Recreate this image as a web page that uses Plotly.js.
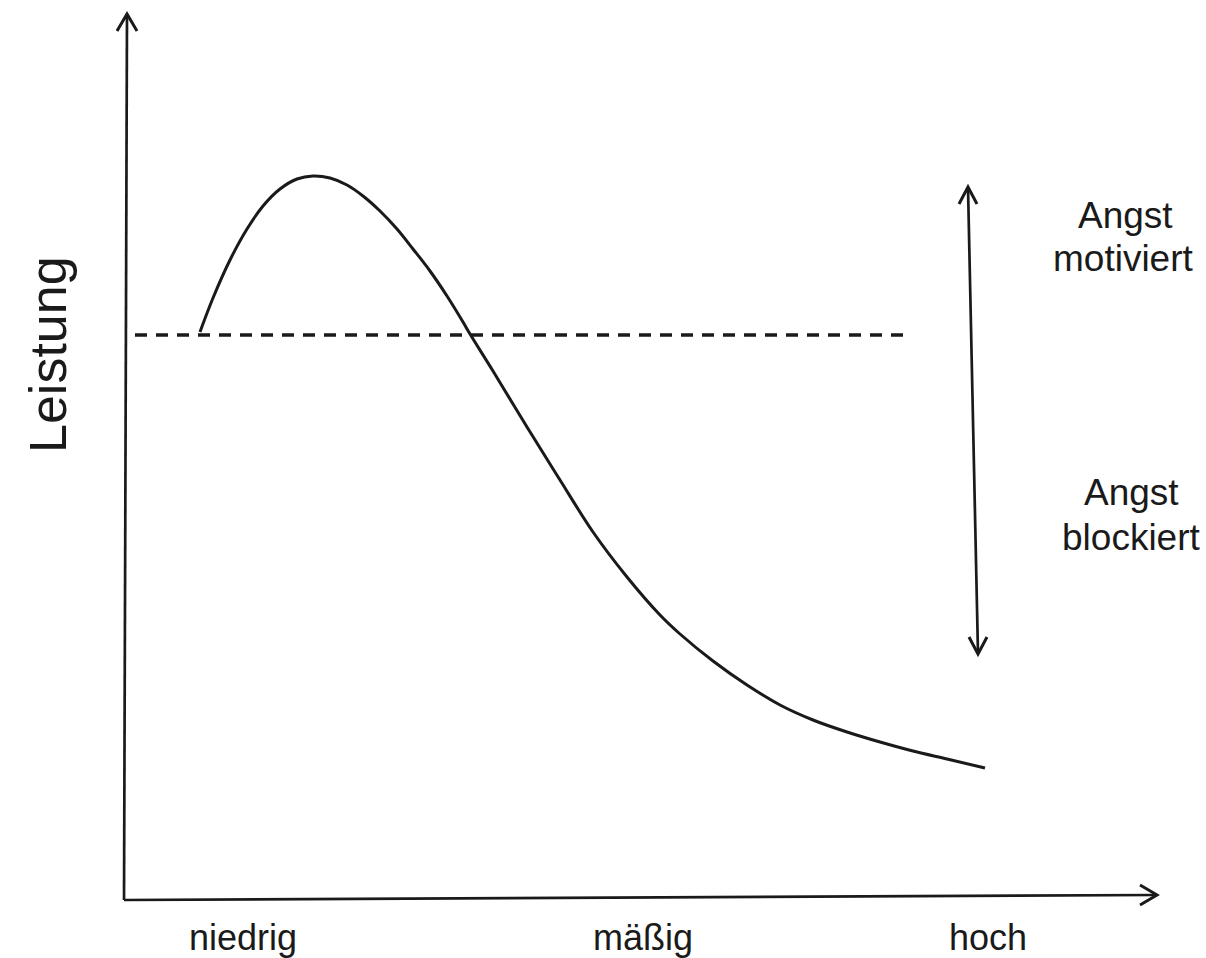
<!DOCTYPE html>
<html>
<head>
<meta charset="utf-8">
<script src="https://cdn.plot.ly/plotly-3.0.1.min.js"></script>
<style>html,body{margin:0;padding:0;background:#fff;}#chart{width:1206px;height:958px;}</style>
</head>
<body>
<div id="chart"></div>
<script>
// Curve: Leistung (performance) as a function of Angst (arousal)
const curveX = [7.5, 8.8, 10.5, 12.2, 13.8, 15.5, 17.2, 18.8, 20.5, 22.2, 23.8, 25.5, 27.2, 28.8, 30.5, 32.2, 33.8, 34.5, 36.8, 40.2, 43.5, 46.8, 50.2, 53.5, 55.5, 58.8, 62.2, 65.5, 68.8, 72.2, 75.5, 78.8, 82.2, 86.0];
const curveY = [56.6, 60.0, 63.8, 66.9, 69.2, 70.9, 71.9, 72.2, 72.0, 71.3, 70.2, 68.7, 66.9, 64.9, 62.7, 60.2, 57.6, 56.4, 52.7, 47.1, 41.8, 36.6, 32.1, 28.3, 26.4, 23.7, 21.3, 19.3, 17.8, 16.6, 15.6, 14.7, 13.9, 13.0];

// Threshold (dashed) line
const thresholdX = [1.0, 78.0];
const thresholdY = [56.3, 56.3];

// Axis arrows and double arrow (start/end)
const yAxisArrow = {x: [-0.1, 0.2], y: [-0.2, 88.4]};
const xAxisArrow = {x: [-0.1, 103.2], y: [-0.2, 0.3]};
const rangeArrow = {x: [84.3, 85.3], y: [71.1, 24.4]};

// Tick labels
const xTickVals = [11.8, 51.8, 86.3];
const xTickText = ['niedrig', 'mäßig', 'hoch'];
const yTitle = 'Leistung';

// Side labels (one entry per text line)
const sideLabelX = [100.0, 99.8, 100.6, 100.6];
const sideLabelY = [68.3, 64.0, 40.6, 36.1];
const sideLabelText = ['Angst', 'motiviert', 'Angst', 'blockiert'];

const ink = '#1a1a1a';
const FONT = 'Liberation Sans, Arial, sans-serif';

const traces = [
  {x: curveX, y: curveY, mode: 'lines', line: {color: ink, width: 3, shape: 'spline', smoothing: 1}, hoverinfo: 'skip'},
  {x: thresholdX, y: thresholdY, mode: 'lines', line: {color: ink, width: 3.5, dash: '12px,9px'}, hoverinfo: 'skip'}
];

function lineShape(a) {
  return {type: 'line', xref: 'x', yref: 'y', x0: a.x[0], y0: a.y[0], x1: a.x[1], y1: a.y[1], line: {color: ink, width: 2.7}};
}
function chevron(ax, ay, path) {
  return {type: 'path', xref: 'x', yref: 'y', xsizemode: 'pixel', ysizemode: 'pixel', xanchor: ax, yanchor: ay, path: path, line: {color: ink, width: 3}};
}

const shapes = [
  lineShape(yAxisArrow),
  lineShape(xAxisArrow),
  lineShape(rangeArrow),
  chevron(yAxisArrow.x[1], yAxisArrow.y[1], 'M -10,-17 L 0,0 L 10,-17'),
  chevron(xAxisArrow.x[1], xAxisArrow.y[1], 'M -17,10 L 0,0 L -17,-10'),
  chevron(rangeArrow.x[0], rangeArrow.y[0], 'M -9,-17 L 0,0 L 9,-17'),
  chevron(rangeArrow.x[1], rangeArrow.y[1], 'M -9,17 L 0,0 L 9,17')
];

const annotations = sideLabelText.map((t, i) => ({
  x: sideLabelX[i], y: sideLabelY[i], xref: 'x', yref: 'y', text: t, showarrow: false,
  font: {family: FONT, size: 37, color: ink}, align: 'center', xanchor: 'center', yanchor: 'middle'
}));
annotations.push({
  x: -0.0614, y: 54.3, xref: 'paper', yref: 'y', text: yTitle, showarrow: false, textangle: -90,
  font: {family: FONT, size: 52, color: ink}, xanchor: 'center', yanchor: 'middle'
});

const layout = {
  width: 1206, height: 958,
  margin: {l: 115, r: 0, t: 0, b: 50},
  paper_bgcolor: '#fff', plot_bgcolor: '#fff',
  showlegend: false,
  xaxis: {range: [-1, 108.1], showgrid: false, zeroline: false, showline: false,
          tickvals: xTickVals, ticktext: xTickText, ticks: '', ticklabelstandoff: 5,
          tickfont: {family: FONT, size: 36, color: ink}, fixedrange: true},
  yaxis: {range: [-1, 89.8], showgrid: false, zeroline: false, showline: false, showticklabels: false, ticks: '',
          fixedrange: true},
  shapes: shapes,
  annotations: annotations
};

Plotly.newPlot('chart', traces, layout, {displayModeBar: false, staticPlot: true});
</script>
</body>
</html>
